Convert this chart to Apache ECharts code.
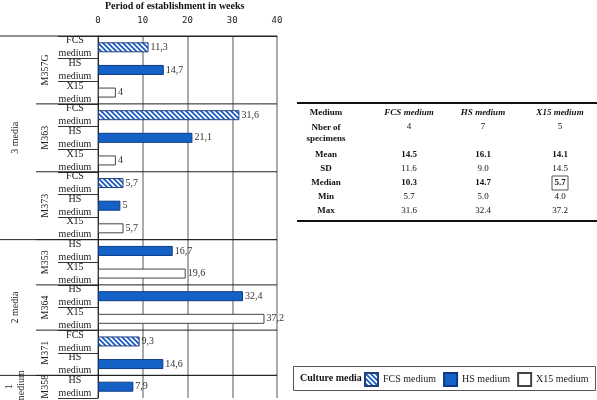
<!DOCTYPE html>
<html><head><meta charset="utf-8">
<script src="https://cdn.jsdelivr.net/npm/echarts@6/dist/echarts.min.js"></script>
<style>html,body{margin:0;padding:0;background:#fff}#c{width:597px;height:400px}</style>
</head><body><div id="c"></div>
<script>
// ---- data ----
const mediumLabels = ['FCS\nmedium','HS\nmedium','X15\nmedium','FCS\nmedium','HS\nmedium','X15\nmedium','FCS\nmedium','HS\nmedium','X15\nmedium','HS\nmedium','X15\nmedium','HS\nmedium','X15\nmedium','FCS\nmedium','HS\nmedium','HS\nmedium'];
const fcsValues = [11.3,'-','-',31.6,'-','-',5.7,'-','-','-','-','-','-',9.3,'-','-'];
const hsValues  = ['-',14.7,'-','-',21.1,'-','-',5,'-',16.7,'-',32.4,'-','-',14.6,7.9];
const x15Values = ['-','-',4,'-','-',4,'-','-',5.7,'-',19.6,'-',37.2,'-','-','-'];
const strainNames = ['M357G','M363','M373','M353','M364','M371','M358'];
const strainSizes = [3,3,3,2,2,2,1];
const groupNames = ['3 media','2 media','1\nmedium'];
const groupSizes = [9,6,1];
const seriesNames = ['FCS medium','HS medium','X15 medium'];
const xMin = 0, xMax = 40, xStep = 10;
const tableRowLabels = ['Nber of\nspecimens','Mean','SD','Median','Min','Max'];
const nSpecimens = [4,7,5];
const meanVals = [14.5,16.1,14.1];
const sdVals = [11.6,9.0,14.5];
const medianVals = [10.3,14.7,5.7];
const minVals = [5.7,5.0,4.0];
const maxVals = [31.6,32.4,37.2];

// ---- styles ----
const SERIF = '"Liberation Serif","DejaVu Serif",serif';
function hatch(){
  const p=5, c=document.createElement('canvas'); c.width=p; c.height=p;
  const g=c.getContext('2d');
  g.fillStyle='#fff'; g.fillRect(0,0,p,p);
  g.strokeStyle='#1a5cc4'; g.lineWidth=1.8;
  g.beginPath();
  for(let k=-1;k<=1;k++){ g.moveTo(k*p-1,-1); g.lineTo(k*p+p+1,p+1); }
  g.stroke();
  return c;
}
const fmt = v => String(v).replace('.',',');
const keys = mediumLabels.map((m,i)=>'r'+i);

const chart = echarts.init(document.getElementById('c'), null, {renderer:'canvas'});
const labelOpt = {show:true, position:'right', distance:2, formatter:p=>fmt(p.value), fontFamily:SERIF, fontSize:10, color:'#333'};
chart.setOption({
  animation:false,
  title:{text:'Period of establishment in weeks', left:100, top:-4, textStyle:{fontFamily:SERIF, fontSize:10, fontWeight:'bold', color:'#111'}},
  grid:{left:98, right:320, top:36, bottom:2, containLabel:false},
  xAxis:{type:'value', position:'top', min:xMin, max:xMax, interval:xStep,
    axisLine:{show:true, lineStyle:{color:'#222', width:1}},
    axisTick:{show:false},
    axisLabel:{margin:11, fontFamily:'"DejaVu Sans Mono","Liberation Mono",monospace', fontSize:9, color:'#222'},
    splitLine:{show:true, lineStyle:{color:'#8f8f8f', width:1.5}}},
  yAxis:{type:'category', inverse:true, data:keys,
    axisLine:{show:true, lineStyle:{color:'#222', width:1}},
    axisTick:{show:true, length:40, interval:0, lineStyle:{color:'#333'}},
    axisLabel:{interval:0, margin:23, align:'center', formatter:(v,i)=>mediumLabels[i], fontFamily:SERIF, fontSize:10, lineHeight:13, color:'#222'},
    splitLine:{show:false}},
  legend:{left:364, top:372, padding:0, itemWidth:13, itemHeight:13, itemGap:7, icon:'rect',
    textStyle:{fontFamily:SERIF, fontSize:10, color:'#222'}, data:seriesNames},
  series:[
    {name:seriesNames[0], type:'bar', data:fcsValues, barWidth:10, barGap:'-100%',
      itemStyle:{color:{image:hatch(), repeat:'repeat'}, borderColor:'#23407e', borderWidth:1}, label:labelOpt},
    {name:seriesNames[1], type:'bar', data:hsValues, barWidth:10, barGap:'-100%',
      itemStyle:{color:'#1562c6', borderColor:'#0c3a86', borderWidth:1}, label:labelOpt},
    {name:seriesNames[2], type:'bar', data:x15Values, barWidth:10, barGap:'-100%',
      itemStyle:{color:'#fff', borderColor:'#444', borderWidth:1}, label:labelOpt}
  ]
});

// ---- decorations computed from the axes ----
const yC = i => chart.convertToPixel({yAxisIndex:0}, i);
const band = yC(1) - yC(0);
const yB = k => yC(0) + band*(k-0.5);
const x0 = chart.convertToPixel({xAxisIndex:0}, xMin);
const xE = chart.convertToPixel({xAxisIndex:0}, xMax);
const g = [];
const line = (x1,y1,x2,y2,w,c) => g.push({type:'line', shape:{x1,y1,x2,y2}, style:{stroke:c||'#222', lineWidth:w||1}, z:50});
line(0, yB(0), xE, yB(0), 1, '#222');
// strain labels + separators
let k = 0;
strainNames.forEach((n,i)=>{
  const a = yB(k), b = yB(k+strainSizes[i]);
  g.push({type:'text', x:45, y:(a+b)/2, rotation:Math.PI/2, style:{text:n, font:'10px '+SERIF, fill:'#222', align:'center', verticalAlign:'middle'}});
  k += strainSizes[i];
  if (k < keys.length) line(36, yB(k), xE, yB(k), 1, '#222');
});
k = 0;
groupNames.forEach((n,i)=>{
  const a = yB(k), b = yB(k+groupSizes[i]);
  g.push({type:'text', x:15, y:(a+b)/2, rotation:Math.PI/2, style:{text:n, font:'10px '+SERIF, lineHeight:12, fill:'#222', align:'center', verticalAlign:'middle'}});
  k += groupSizes[i];
  if (k < keys.length) line(0, yB(k), xE, yB(k), 1, '#222');
});
// table
const colX = [409, 483, 560], labX = 326;
const tTop = 103, rowsY = [127, 155, 169, 183, 197, 211], tBot = 221;
line(297, tTop, 597, tTop, 2, '#111');
line(297, tBot, 597, tBot, 2, '#111');
const T = (x,y,s,font,va) => g.push({type:'text', x, y, style:{text:s, font, fill:'#111', align:'center', verticalAlign:va||'middle', lineHeight:11}});
T(labX, 113, 'Medium', 'bold 9px '+SERIF);
seriesNames.forEach((n,i)=>T(colX[i], 113, n, 'italic bold 9px '+SERIF));
T(labX, rowsY[0]-5, tableRowLabels[0], 'bold 9px '+SERIF, 'top');
tableRowLabels.slice(1).forEach((n,i)=>T(labX, rowsY[i+1], n, 'bold 9px '+SERIF));
const rowsVals = [nSpecimens, meanVals, sdVals, medianVals, minVals, maxVals];
const bold = [false, true, false, true, false, false];
rowsVals.forEach((arr,r)=>arr.forEach((v,i)=>{
  const s = r===0 ? String(v) : v.toFixed(1);
  T(colX[i], rowsY[r], s, (bold[r]?'bold ':'')+'9px '+SERIF);
}));
g.push({type:'rect', shape:{x:colX[2]-8, y:rowsY[3]-7, width:16, height:14}, style:{fill:'none', stroke:'#555', lineWidth:1}});
// legend box
g.push({type:'rect', shape:{x:293.5, y:366.5, width:302, height:24}, style:{fill:'none', stroke:'#555', lineWidth:1}, z:-1});
g.push({type:'text', x:300, y:378.5, style:{text:'Culture media', font:'bold 10px '+SERIF, fill:'#111', align:'left', verticalAlign:'middle'}});
chart.setOption({graphic:g});
</script></body></html>
